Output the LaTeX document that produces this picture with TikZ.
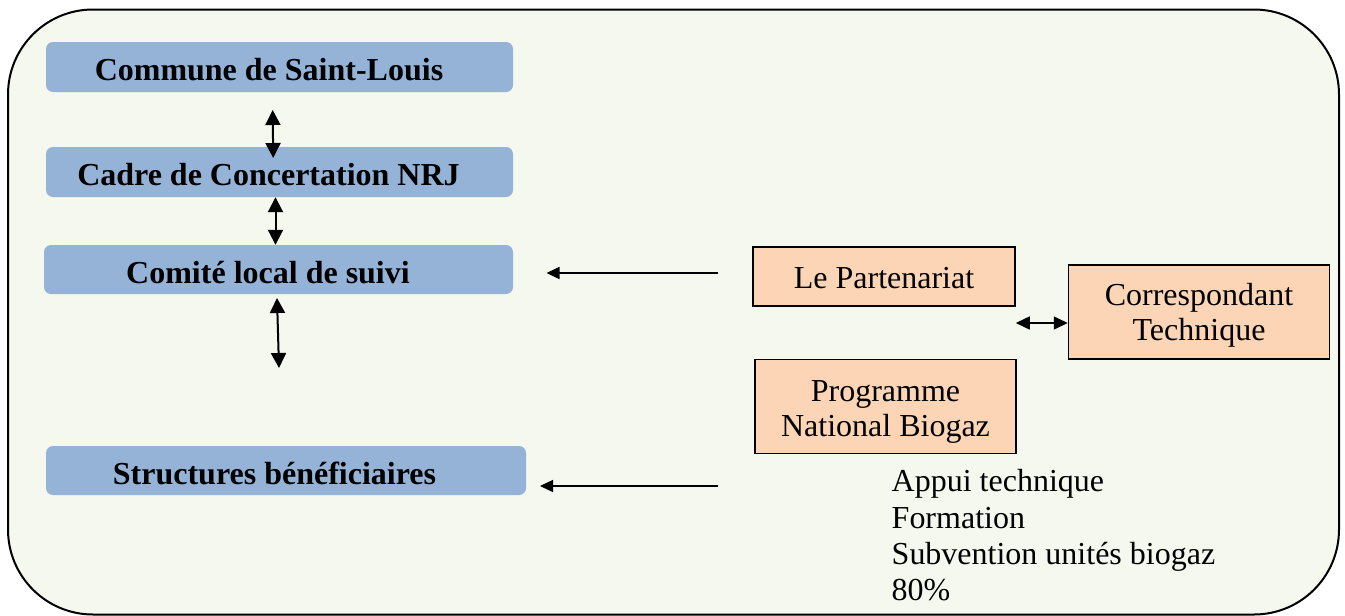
\documentclass[tikz,border=0pt]{standalone}
\usepackage{fontspec}
\setmainfont{Liberation Serif}
\usetikzlibrary{arrows.meta}
\definecolor{bgfill}{HTML}{F5F8EE}
\definecolor{bluefill}{HTML}{95B3D7}
\definecolor{peachfill}{HTML}{FBD5B5}
\tikzset{
  outerframe/.style={draw=black, line width=2pt, fill=bgfill, rounded corners=85pt},
  bluebox/.style={fill=bluefill, draw=none, rounded corners=7pt, inner sep=0pt},
  boldtext/.style={font=\fontsize{32}{34.5}\selectfont\bfseries, inner sep=0pt},
  peachbox/.style={fill=peachfill, draw=black, line width=1.5pt, inner sep=0pt, align=center,
    text depth=0pt, font=\fontsize{32}{34.5}\selectfont},
  plaintext/.style={font=\fontsize{32}{36.3}\selectfont, inner sep=0pt, align=left},
  vdouble/.style={line width=2pt, {Triangle[length=15pt,width=15pt]}-{Triangle[length=15pt,width=15pt]}},
  hsingle/.style={line width=1.5pt, -{Triangle[length=13pt,width=12pt]}},
  hdouble/.style={line width=1.5pt, {Triangle[length=14pt,width=13pt]}-{Triangle[length=14pt,width=13pt]}}
}
\begin{document}
\begin{tikzpicture}[x=1pt, y=-1pt]
\useasboundingbox (0,0) rectangle (1345,616);
\path[outerframe] (8,9.5) rectangle (1339,614.5);

% blue boxes
\node[bluebox, minimum width=467, minimum height=50] (commune) at (279.5,67) {};
\node[boldtext, anchor=base] (communeT) at (269,80) {Commune de Saint-Louis};
\node[bluebox, minimum width=467, minimum height=50] (cadre) at (279.5,172) {};
\node[boldtext, anchor=base] (cadreT) at (268.5,185.5) {Cadre de Concertation NRJ};
\node[bluebox, minimum width=469, minimum height=49] (comite) at (278.5,269.5) {};
\node[boldtext, anchor=base] (comiteT) at (268,283.5) {Comité local de suivi};
\node[bluebox, minimum width=480, minimum height=49] (struct) at (286,470.5) {};
\node[boldtext, anchor=base] (structT) at (274.5,484.5) {Structures bénéficiaires};

% peach boxes
\node[peachbox, text height=23pt, minimum width=262, minimum height=59] (part) at (884,276.5) {Le Partenariat};
\node[peachbox, text height=56pt, minimum width=261, minimum height=94] (corr) at (1199,312) {Correspondant\\Technique};
\node[peachbox, text height=59pt, minimum width=261, minimum height=94] (prog) at (885.5,406.5) {Programme\\National Biogaz};

% text list
\node[plaintext, anchor=base west] (list) at (891.5,600.6) {Appui technique\\Formation\\Subvention unités biogaz\\80\%};

% connector end points
\coordinate (a1t) at (272.7,110);
\coordinate (a1b) at (273.2,158);
\coordinate (a3t) at (277,298);
\coordinate (a3b) at (279,368);
\coordinate (a4s) at (718,273);
\coordinate (a4e) at (546.5,273);
\coordinate (a5s) at (718,486);
\coordinate (a5e) at (540,486);

% connectors
\draw[vdouble] (a1t) -- (a1b);
\draw[vdouble] ([xshift=-4pt]cadre.south) -- ([xshift=-3pt]comite.north);
\draw[vdouble] (a3t) -- (a3b);
\draw[hsingle] (a4s) -- (a4e);
\draw[hsingle] (a5s) -- (a5e);
\draw[hdouble] (part.east |- 0,323) -- (corr.west |- 0,323);
\end{tikzpicture}
\end{document}
